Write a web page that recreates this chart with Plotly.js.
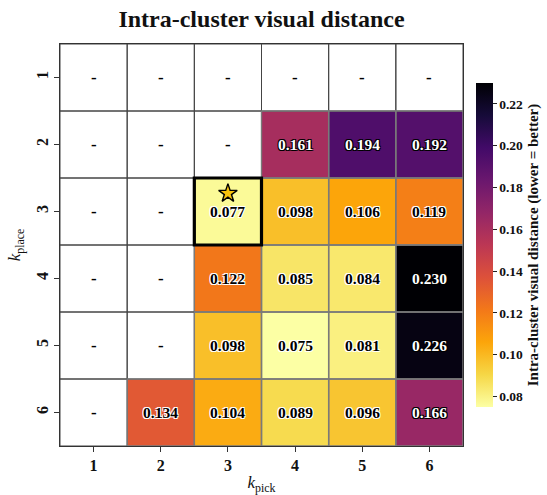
<!DOCTYPE html>
<html>
<head>
<meta charset="utf-8">
<script src="https://cdn.plot.ly/plotly-3.0.1.min.js"></script>
<style>html,body{margin:0;padding:0;background:#fff;}#chart{width:547px;height:495px;}</style>
</head>
<body>
<div id="chart"></div>
<script>
// ---- data ----
const kPick = [1, 2, 3, 4, 5, 6];
const kPlace = [1, 2, 3, 4, 5, 6];
const row1 = [null, null, null, null, null, null];
const row2 = [null, null, null, 0.161, 0.194, 0.192];
const row3 = [null, null, 0.077, 0.098, 0.106, 0.119];
const row4 = [null, null, 0.122, 0.085, 0.084, 0.230];
const row5 = [null, null, 0.098, 0.075, 0.081, 0.226];
const row6 = [null, 0.134, 0.104, 0.089, 0.096, 0.166];
const zRows = [row1, row2, row3, row4, row5, row6];
const selected = {pick: 3, place: 3};
const tickLabels = ['1', '2', '3', '4', '5', '6'];
const cbTicks = [0.08, 0.10, 0.12, 0.14, 0.16, 0.18, 0.20, 0.22];

const FONT = 'Liberation Serif, Times New Roman, serif';

const inferno = [
  [0.0, '#000004'], [0.1, '#160b39'], [0.2, '#420a68'], [0.3, '#6a176e'],
  [0.4, '#932667'], [0.5, '#bc3754'], [0.6, '#dd513a'], [0.7, '#f37819'],
  [0.8, '#fca50a'], [0.9, '#f6d746'], [1.0, '#fcffa4']
];
const infernoR = inferno.map(([t, c]) => [1 - t, c]).reverse();

const flat = zRows.flat().filter(v => v !== null);
const zmin = Math.min(...flat), zmax = Math.max(...flat);

const heat = {
  type: 'heatmap',
  x: kPick, y: kPlace, z: zRows,
  colorscale: infernoR, zmin: zmin, zmax: zmax,
  hoverongaps: false,
  colorbar: {
    x: 1.032, xanchor: 'left', xpad: 0, ypad: 0,
    y: 0.5, yanchor: 'middle', len: 0.805, lenmode: 'fraction',
    thickness: 17, outlinewidth: 0,
    ticks: 'outside', ticklen: 4, tickwidth: 1, tickcolor: '#222',
    tickvals: cbTicks,
    tickformat: '.2f',
    tickfont: {family: FONT, size: 13.5, weight: 'bold', color: '#111'},
    title: {text: 'Intra-cluster visual distance (lower = better)', side: 'right',
            font: {family: FONT, size: 15, weight: 'bold', color: '#111'}}
  }
};

const shapes = [];
const annotations = [];
zRows.forEach((row, i) => {
  row.forEach((v, j) => {
    const x = kPick[j], y = kPlace[i];
    shapes.push({type: 'rect', xref: 'x', yref: 'y', x0: x - 0.5, x1: x + 0.5, y0: y - 0.5, y1: y + 0.5,
      line: {color: v === null ? '#444' : '#7a7a7a', width: v === null ? 1 : 1.4}, layer: 'above'});
    const dark = v !== null && v > 0.15;
    annotations.push({
      x: x, y: y, xref: 'x', yref: 'y', showarrow: false,
      text: v === null ? '<b>-</b>' : v.toFixed(3),
      font: {family: FONT, size: v === null ? 17 : 15.5, weight: 'bold', color: dark ? '#fff' : '#000',
        shadow: dark ? '1px 1px 0 #000, -1px -1px 0 #000, 1px -1px 0 #000, -1px 1px 0 #000'
                     : (v === null ? 'none' : '1px 1px 0 #fff, -1px -1px 0 #fff, 1px -1px 0 #fff, -1px 1px 0 #fff')}
    });
  });
});
shapes.push({type: 'rect', xref: 'x', yref: 'y',
  x0: selected.pick - 0.5, x1: selected.pick + 0.5, y0: selected.place - 0.5, y1: selected.place + 0.5,
  line: {color: '#000', width: 3.2}, layer: 'above'});

const star = {
  type: 'scatter', mode: 'markers',
  x: [selected.pick], y: [selected.place - 0.27],
  marker: {symbol: 'star', size: 14, color: '#f7c20c', line: {color: '#000', width: 1.4}},
  hoverinfo: 'skip', showlegend: false
};

const layout = {
  width: 547, height: 495,
  margin: {l: 60, r: 84, t: 44, b: 49, autoexpand: false},
  paper_bgcolor: '#fff', plot_bgcolor: '#fff',
  title: {text: '<b>Intra-cluster visual distance</b>', x: 0.5, xref: 'paper', xanchor: 'center',
          y: 0.962, yref: 'container', yanchor: 'middle',
          font: {family: FONT, size: 24, color: '#111'}},
  xaxis: {
    range: [0.5, 6.5], tickvals: kPick, ticktext: tickLabels,
    ticks: 'outside', ticklen: 5, tickcolor: '#333', showgrid: false, zeroline: false,
    showline: true, mirror: true, linecolor: '#333', linewidth: 1,
    tickfont: {family: FONT, size: 16, weight: 'bold', color: '#111'},
    title: {text: '<i>k</i><sub>pick</sub>', standoff: 6, font: {family: FONT, size: 17, color: '#111'}}
  },
  yaxis: {
    range: [6.5, 0.5], tickvals: kPlace, ticktext: tickLabels, tickangle: -90,
    ticks: 'outside', ticklen: 5, tickcolor: '#333', showgrid: false, zeroline: false,
    showline: true, mirror: true, linecolor: '#333', linewidth: 1,
    tickfont: {family: FONT, size: 16, weight: 'bold', color: '#111'},
    title: {text: '<i>k</i><sub>place</sub>', standoff: 8, font: {family: FONT, size: 17, color: '#111'}}
  },
  shapes: shapes,
  annotations: annotations,
  showlegend: false
};

Plotly.newPlot('chart', [heat, star], layout, {displayModeBar: false, staticPlot: true});
</script>
</body>
</html>
